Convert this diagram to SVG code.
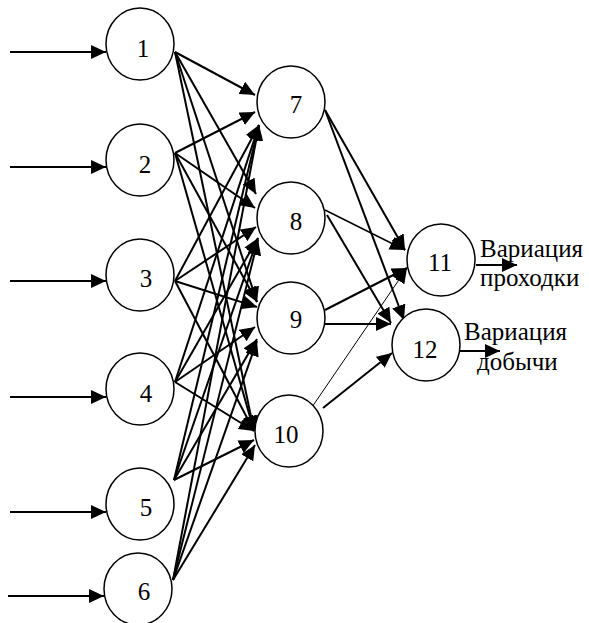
<svg xmlns="http://www.w3.org/2000/svg" width="589" height="623" viewBox="0 0 589 623">
<style>
.n ellipse{fill:#fff;stroke:#000;stroke-width:1.5}
.n text{font-family:"Liberation Serif","Times New Roman",serif;font-size:25px;text-anchor:middle;fill:#000}
.lbl{font-family:"Liberation Serif","Times New Roman",serif;font-size:25px;fill:#000}
#edges line{stroke:#000;stroke-width:2;marker-end:url(#a)}
#edges line.t{stroke-width:1}
</style>
<defs>
<marker id="a" markerWidth="15" markerHeight="14" refX="15" refY="7" orient="auto" markerUnits="userSpaceOnUse"><path d="M0,0 L15,7 L0,14 z" fill="#000"/></marker>
</defs>
<rect width="589" height="623" fill="#fff"/>
<g id="edges">
<line x1="10" y1="52" x2="106" y2="52"/>
<line x1="10" y1="167" x2="106" y2="167"/>
<line x1="10" y1="281" x2="106" y2="281"/>
<line x1="10" y1="397" x2="106" y2="397"/>
<line x1="10" y1="512" x2="106" y2="512"/>
<line x1="8" y1="596" x2="104" y2="596"/>
<line x1="175" y1="52" x2="255" y2="95"/>
<line x1="175" y1="52" x2="256" y2="194"/>
<line x1="175" y1="52" x2="257" y2="302"/>
<line x1="175" y1="52" x2="254" y2="431"/>
<line x1="175" y1="153" x2="255" y2="112"/>
<line x1="175" y1="153" x2="255" y2="208"/>
<line x1="175" y1="153" x2="257" y2="302"/>
<line x1="175" y1="153" x2="254" y2="431"/>
<line x1="175" y1="281" x2="259" y2="125"/>
<line x1="175" y1="281" x2="256" y2="227"/>
<line x1="175" y1="281" x2="257" y2="307"/>
<line x1="175" y1="281" x2="254" y2="431"/>
<line x1="175" y1="382" x2="259" y2="125"/>
<line x1="175" y1="382" x2="258" y2="238"/>
<line x1="175" y1="382" x2="255" y2="327"/>
<line x1="175" y1="382" x2="254" y2="431"/>
<line x1="174" y1="480" x2="259" y2="125"/>
<line x1="174" y1="480" x2="258" y2="238"/>
<line x1="174" y1="480" x2="257" y2="339"/>
<line x1="174" y1="480" x2="254" y2="440"/>
<line x1="173" y1="580" x2="259" y2="125"/>
<line x1="173" y1="580" x2="258" y2="240"/>
<line x1="173" y1="580" x2="257" y2="341"/>
<line x1="173" y1="580" x2="255" y2="445"/>
<line x1="325" y1="110" x2="405" y2="250"/>
<line x1="325" y1="110" x2="404" y2="320"/>
<line x1="325" y1="210" x2="405" y2="250" style="stroke-width:1.5"/>
<line x1="327" y1="215" x2="391" y2="323"/>
<line x1="325" y1="310" x2="407" y2="268"/>
<line x1="323" y1="324" x2="391" y2="324"/>
<line class="t" x1="310" y1="410" x2="407" y2="268"/>
<line x1="323" y1="408" x2="392" y2="353"/>
<line x1="476" y1="265" x2="517" y2="265"/>
<line x1="460" y1="351" x2="500" y2="351"/>
</g>
<g id="n1" class="n"><ellipse cx="140" cy="44" rx="34" ry="36"/><text x="143" y="57">1</text></g>
<g id="n2" class="n"><ellipse cx="140" cy="160" rx="34" ry="36"/><text x="145" y="173">2</text></g>
<g id="n3" class="n"><ellipse cx="140" cy="275" rx="34" ry="36"/><text x="146" y="287">3</text></g>
<g id="n4" class="n"><ellipse cx="140" cy="389" rx="34" ry="36"/><text x="146" y="402">4</text></g>
<g id="n5" class="n"><ellipse cx="140" cy="504" rx="34" ry="36"/><text x="146" y="516">5</text></g>
<g id="n6" class="n"><ellipse cx="138" cy="589" rx="34" ry="36"/><text x="144" y="600">6</text></g>
<g id="n7" class="n"><ellipse cx="291" cy="102" rx="34" ry="36"/><text x="296" y="113">7</text></g>
<g id="n8" class="n"><ellipse cx="291" cy="218" rx="34" ry="36"/><text x="296" y="230">8</text></g>
<g id="n9" class="n"><ellipse cx="291" cy="318" rx="34" ry="36"/><text x="296" y="328">9</text></g>
<g id="n10" class="n"><ellipse cx="289" cy="431" rx="34" ry="36"/><text x="286" y="443">10</text></g>
<g id="n11" class="n"><ellipse cx="441" cy="260" rx="34" ry="36"/><text x="440" y="271">11</text></g>
<g id="n12" class="n"><ellipse cx="426" cy="345" rx="34" ry="36"/><text x="425" y="358">12</text></g>
<text class="lbl" x="480" y="257">Вариация</text>
<text class="lbl" x="480" y="286">проходки</text>
<text class="lbl" x="464" y="340">Вариация</text>
<text class="lbl" x="477" y="370">добычи</text>
</svg>
